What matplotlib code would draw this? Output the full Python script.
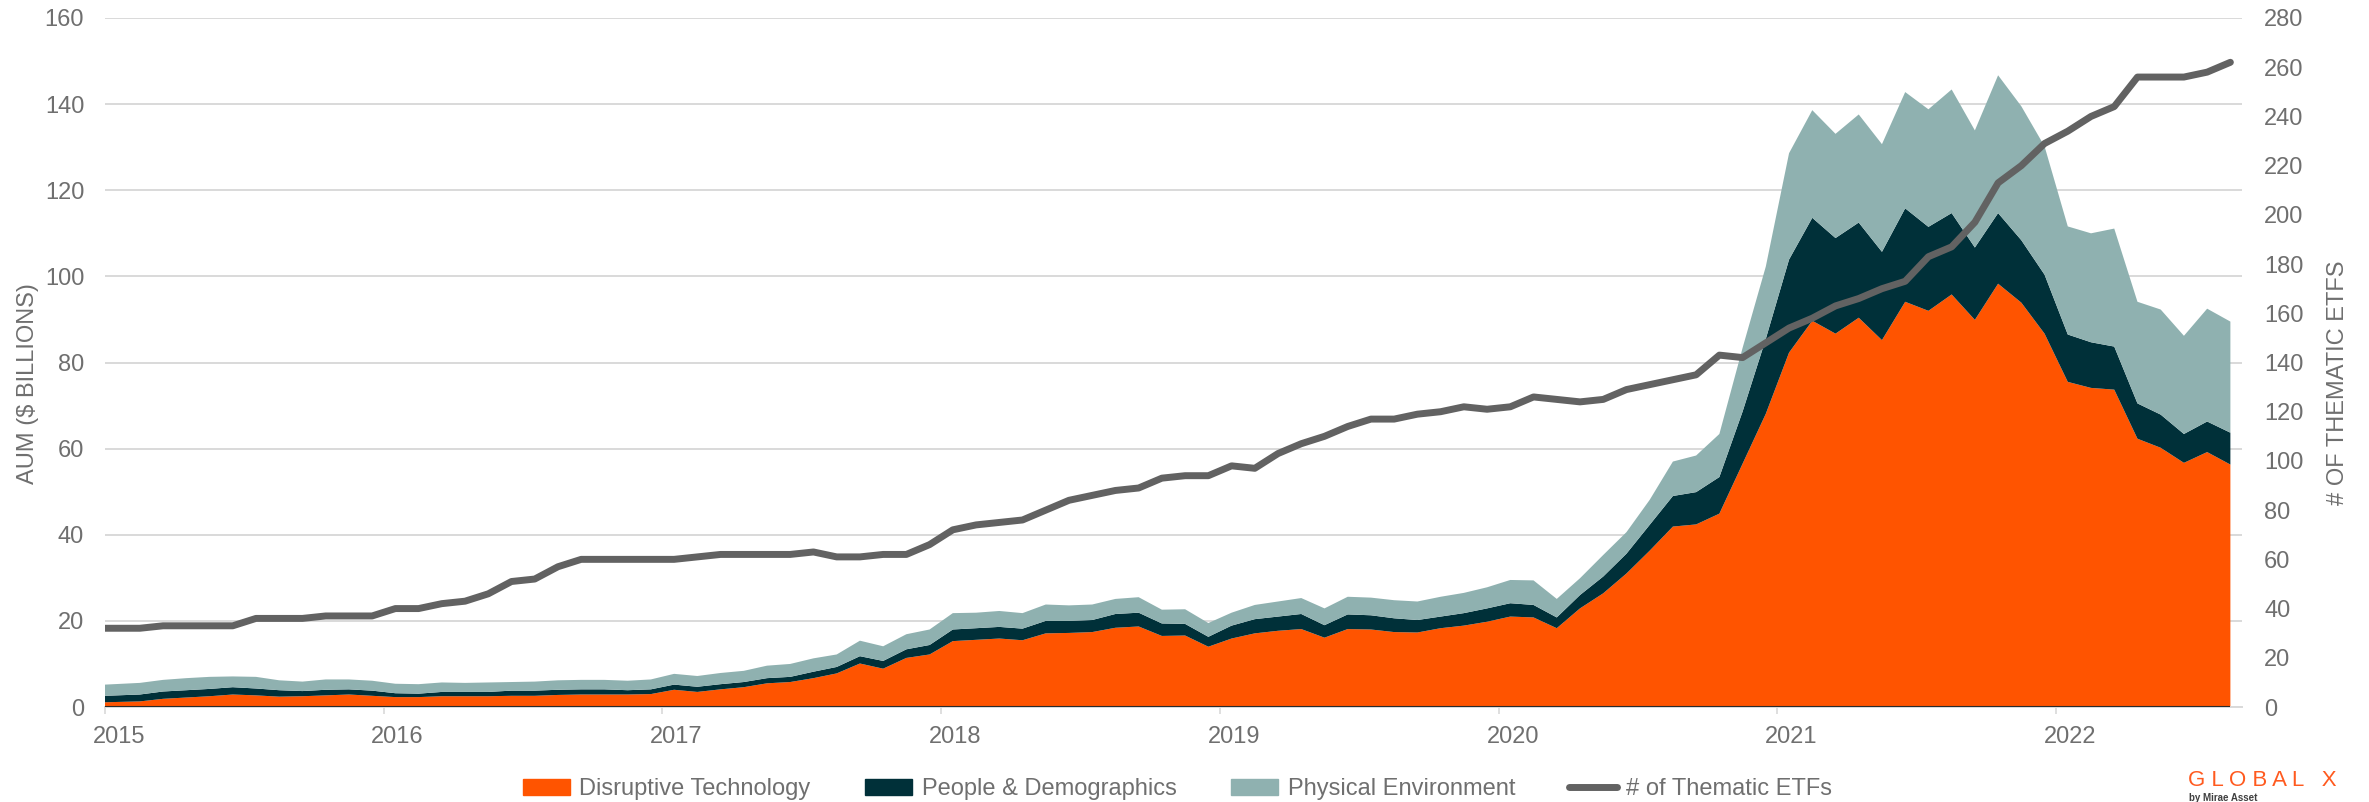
import matplotlib
matplotlib.use("Agg")
import matplotlib.pyplot as plt
from matplotlib.lines import Line2D
from matplotlib.patches import Patch
import numpy as np

plt.rcParams["font.family"] = ["Liberation Sans", "DejaVu Sans"]

# monthly values, Jan 2015 .. Aug 2022
years = ["2015", "2016", "2017", "2018", "2019", "2020", "2021", "2022"]

disruptive_tech = [
    1.1, 1.3, 1.9, 2.2, 2.5, 2.9, 2.7, 2.4, 2.5, 2.7,
    2.9, 2.6, 2.3, 2.3, 2.5, 2.5, 2.5, 2.6, 2.6, 2.8,
    2.9, 2.9, 2.9, 3.0, 4.0, 3.5, 4.1, 4.6, 5.5, 5.8,
    6.7, 7.8, 10.1, 8.9, 11.4, 12.2, 15.3, 15.6, 15.9, 15.5,
    17.1, 17.2, 17.4, 18.4, 18.7, 16.5, 16.6, 14.0, 15.9, 17.1,
    17.7, 18.1, 16.1, 18.1, 18.0, 17.4, 17.3, 18.3, 18.9, 19.8,
    21.0, 20.8, 18.3, 22.9, 26.4, 31.0, 36.3, 41.9, 42.4, 44.9,
    56.5, 68.1, 82.3, 89.7, 86.7, 90.4, 85.2, 94.1, 92.0, 95.8,
    89.9, 98.3, 93.9, 86.7, 75.5, 74.1, 73.7, 62.3, 60.2, 56.7,
    59.2, 56.3,
]
people_demo = [
    1.5, 1.6, 1.7, 1.7, 1.7, 1.7, 1.6, 1.5, 1.2, 1.3,
    1.2, 1.2, 0.9, 0.8, 1.0, 1.0, 1.0, 1.2, 1.2, 1.2,
    1.2, 1.2, 1.0, 1.1, 1.2, 1.2, 1.2, 1.2, 1.2, 1.2,
    1.5, 1.5, 1.7, 1.8, 2.0, 2.2, 2.7, 2.7, 2.7, 2.7,
    2.9, 2.8, 2.8, 3.2, 3.2, 2.9, 2.7, 2.3, 3.0, 3.3,
    3.3, 3.5, 2.9, 3.4, 3.3, 3.2, 2.9, 2.7, 2.9, 3.1,
    3.1, 2.9, 2.5, 3.1, 3.9, 4.6, 6.0, 7.1, 7.5, 8.5,
    12.1, 17.4, 21.6, 23.9, 22.2, 22.1, 20.5, 21.7, 19.5, 18.9,
    16.8, 16.4, 14.5, 13.7, 11.0, 10.6, 10.0, 8.2, 7.7, 6.7,
    7.1, 7.4,
]
physical_env = [
    2.6, 2.7, 2.7, 2.8, 2.8, 2.5, 2.7, 2.3, 2.2, 2.4,
    2.3, 2.3, 2.2, 2.2, 2.2, 2.1, 2.2, 2.0, 2.1, 2.2,
    2.2, 2.2, 2.2, 2.3, 2.5, 2.5, 2.6, 2.6, 2.9, 3.0,
    3.1, 2.9, 3.6, 3.4, 3.5, 3.6, 3.8, 3.6, 3.7, 3.6,
    3.8, 3.6, 3.6, 3.5, 3.6, 3.2, 3.4, 3.2, 3.0, 3.3,
    3.5, 3.7, 3.9, 4.1, 4.1, 4.2, 4.3, 4.6, 4.7, 4.9,
    5.4, 5.7, 4.3, 3.9, 5.0, 5.0, 5.8, 8.0, 8.5, 10.0,
    14.8, 16.8, 24.7, 25.0, 24.2, 25.1, 25.0, 27.0, 27.3, 28.7,
    27.2, 32.0, 31.1, 29.8, 25.1, 25.3, 27.4, 23.6, 24.4, 22.8,
    26.2, 25.8,
]
n_etfs = [
    32, 32, 33, 33, 33, 33, 36, 36, 36, 37,
    37, 37, 40, 40, 42, 43, 46, 51, 52, 57,
    60, 60, 60, 60, 60, 61, 62, 62, 62, 62,
    63, 61, 61, 62, 62, 66, 72, 74, 75, 76,
    80, 84, 86, 88, 89, 93, 94, 94, 98, 97,
    103, 107, 110, 114, 117, 117, 119, 120, 122, 121,
    122, 126, 125, 124, 125, 129, 131, 133, 135, 143,
    142, 148, 154, 158, 163, 166, 170, 173, 183, 187,
    197, 213, 220, 229, 234, 240, 244, 256, 256, 256,
    258, 262,
]

ORANGE = "#ff5400"
DARK = "#003039"
TEAL = "#8fb1b0"
LINE = "#626262"
TXT = "#6f6f6f"
GRID = "#d9d9d9"
FS = 17

n = len(disruptive_tech)
# points sit mid-month, except the first one which Excel pins to the axis edge
x = np.arange(n) + 0.5
x[0] = 0.0

W, H = 2369, 802
fig = plt.figure(figsize=(W / 100, H / 100), dpi=100)
ax = fig.add_axes([105 / W, 95 / H, (2242 - 105) / W, (707 - 18) / H])

ax.stackplot(x, disruptive_tech, people_demo, physical_env,
             colors=[ORANGE, DARK, TEAL], linewidth=0, zorder=2)
ax.hlines(0, x[0], x[-1], color="#2b2b2b", lw=1.5, zorder=3)

ax.set_xlim(0, 92)
ax.set_ylim(0, 160)
ax.set_yticks(range(0, 161, 20))
ax.grid(axis="y", color=GRID, lw=1.4, zorder=0)
ax.set_axisbelow(True)

for s in ["top", "left", "right"]:
    ax.spines[s].set_visible(False)
ax.spines["bottom"].set_color(GRID)
ax.spines["bottom"].set_linewidth(1.4)

# year ticks on the boundaries, labels centred just after
ax.set_xticks([12 * i for i in range(len(years))])
ax.set_xticklabels([])
ax.set_xticks([12 * i + 0.6 for i in range(len(years))], minor=True)
ax.set_xticklabels(years, minor=True)
ax.tick_params(axis="x", which="major", length=5, width=1.2, color=GRID)
ax.tick_params(axis="x", which="minor", length=0, pad=14, labelsize=FS, labelcolor=TXT)
ax.tick_params(axis="y", length=0, pad=15, labelsize=FS, labelcolor=TXT)
ax.set_ylabel("AUM ($ BILLIONS)", fontsize=FS, color=TXT)
ax.yaxis.set_label_coords(-0.031, 0.47)

ax2 = ax.twinx()
ax2.plot(x, n_etfs, color=LINE, lw=5, solid_capstyle="round",
         solid_joinstyle="round", zorder=4)
ax2.set_ylim(0, 280)
ax2.set_yticks(range(0, 281, 20))
ax2.tick_params(axis="y", length=0, pad=16, labelsize=FS, labelcolor=TXT)
for s in ax2.spines.values():
    s.set_visible(False)
ax2.set_ylabel("# OF THEMATIC ETFS", fontsize=FS, color=TXT, rotation=90)
ax2.yaxis.set_label_coords(1.04, 0.47)

handles = [
    Patch(color=ORANGE, label="Disruptive Technology"),
    Patch(color=DARK, label="People & Demographics"),
    Patch(color=TEAL, label="Physical Environment"),
    Line2D([], [], color=LINE, lw=5, solid_capstyle="round", label="# of Thematic ETFs"),
]
leg = fig.legend(handles=handles, loc="center", bbox_to_anchor=(0.497, 0.016),
                 ncol=4, frameon=False, fontsize=FS, handlelength=2.0,
                 handletextpad=0.4, columnspacing=2.3)
for t in leg.get_texts():
    t.set_color(TXT)

# logo
fig.text(2188 / W, 1 - 781 / H, "G L O B A L   X", color="#ff5a1f", fontsize=16,
         ha="left", va="center")
fig.text(2189 / W, 1 - 798 / H, "by Mirae Asset", color="#404040", fontsize=7,
         fontweight="bold", ha="left", va="center")

fig.savefig("out.png", dpi=100)
